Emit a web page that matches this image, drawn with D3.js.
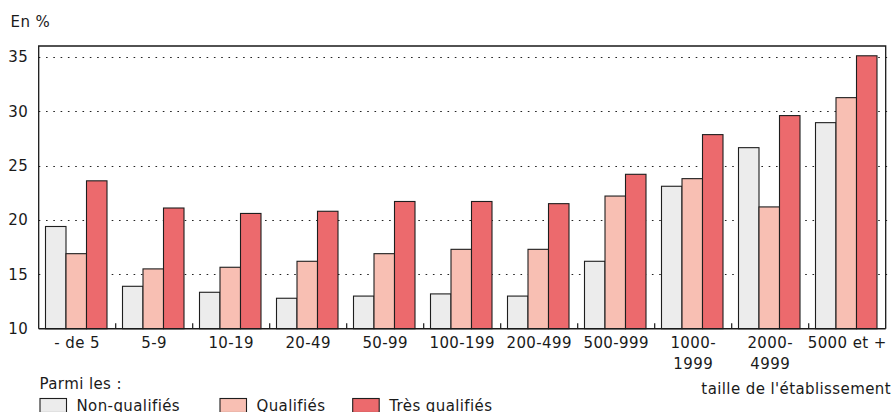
<!DOCTYPE html>
<html>
<head>
<meta charset="utf-8">
<script src="https://cdn.jsdelivr.net/npm/d3@7"></script>
<style>
  html, body { margin: 0; padding: 0; background: #fff; }
  svg text { font-family: "DejaVu Sans", Verdana, sans-serif; font-size: 15px; fill: #1a1a1a; letter-spacing: 0.4px; }
</style>
</head>
<body>
<svg id="chart" width="894" height="412"></svg>
<script>
// Taille de l'établissement (libellés, retour à la ligne avec "\n")
const categories = ["- de 5", "5-9", "10-19", "20-49", "50-99", "100-199", "200-499",
  "500-999", "1000-\n1999", "2000-\n4999", "5000 et +"];
const seriesNames = ["Non-qualifiés", "Qualifiés", "Très qualifiés"];
const nonQualifies   = [19.4, 13.9, 13.35, 12.8, 13.0, 13.2, 13.0, 16.2, 23.1, 26.65, 28.95];
const qualifies      = [16.9, 15.5, 15.65, 16.2, 16.9, 17.3, 17.3, 22.2, 23.8, 21.2, 31.25];
const tresQualifies  = [23.6, 21.1, 20.6, 20.8, 21.7, 21.7, 21.5, 24.2, 27.85, 29.6, 35.1];
const yTicks = [10, 15, 20, 25, 30, 35];
const colors = ["#ececec", "#f8bfb3", "#ec6a6d"];

const series = [nonQualifies, qualifies, tresQualifies];

const svg = d3.select("#chart");
const plotLeft = 38.7, plotRight = 885.7, plotTop = 46, plotBottom = 328.7;

const x = d3.scaleBand().domain(categories).range([plotLeft, plotRight]).padding(0);
const x1 = d3.scaleBand().domain(seriesNames).range([6.8, 68.3]).padding(0);
const y = d3.scaleLinear().domain([10, 36]).range([plotBottom, plotTop]);

// Grille pointillée
svg.append("g")
  .selectAll("line")
  .data(yTicks.filter(d => d > 10))
  .join("line")
  .attr("x1", plotLeft).attr("x2", plotRight + 3)
  .attr("y1", d => Math.round(y(d)) + 0.5).attr("y2", d => Math.round(y(d)) + 0.5)
  .attr("stroke", "#222")
  .attr("stroke-width", 1.2)
  .attr("stroke-dasharray", "1.6,5.7");

// Barres
const groups = svg.append("g")
  .selectAll("g")
  .data(categories.map((c, i) => ({ c, values: series.map((s, k) => ({ name: seriesNames[k], v: s[i], k })) })))
  .join("g")
  .attr("transform", d => `translate(${x(d.c)},0)`);

groups.selectAll("rect")
  .data(d => d.values)
  .join("rect")
  .attr("x", d => x1(d.name))
  .attr("width", x1.bandwidth())
  .attr("y", d => y(d.v))
  .attr("height", d => y(10) - y(d.v))
  .attr("fill", d => colors[d.k])
  .attr("stroke", "#1e1e1e")
  .attr("stroke-width", 1.1);

// Cadre
const frame = svg.append("g").attr("fill", "none").attr("stroke", "#1a1a1a").attr("stroke-width", 1.3);
frame.append("path").attr("d", `M${plotLeft},${plotBottom}V${plotTop}H${plotRight}V${plotBottom}`);
frame.append("line").attr("x1", plotLeft).attr("x2", plotRight).attr("y1", plotBottom).attr("y2", plotBottom).attr("stroke-width", 1.6);

// Séparateurs entre classes
svg.append("g")
  .selectAll("line")
  .data(categories.slice(1))
  .join("line")
  .attr("x1", d => x(d)).attr("x2", d => x(d))
  .attr("y1", plotBottom).attr("y2", plotBottom - 5.5)
  .attr("stroke", "#1a1a1a").attr("stroke-width", 1.2);

// Axe vertical
const yAxis = svg.append("g")
  .attr("transform", `translate(${plotLeft},0)`)
  .call(d3.axisLeft(y).tickValues(yTicks).tickSize(0).tickPadding(10.5));
yAxis.select(".domain").remove();
yAxis.attr("font-family", null).attr("font-size", null);
yAxis.selectAll("text").attr("fill", null);

// Axe horizontal
const xAxis = svg.append("g")
  .attr("transform", `translate(0,${plotBottom})`)
  .call(d3.axisBottom(x).tickSize(0).tickPadding(0));
xAxis.select(".domain").remove();
xAxis.attr("font-family", null).attr("font-size", null);
xAxis.selectAll("text")
  .attr("fill", null)
  .attr("dy", null)
  .attr("y", 0)
  .text(null)
  .each(function(d) {
    const lines = d.split("\n");
    const t = d3.select(this);
    lines.forEach((ln, i) => {
      t.append("tspan").attr("x", 0).attr("y", 19.8 + i * 21).text(ln);
    });
  });

// Titres
svg.append("text").attr("x", 10.5).attr("y", 26.5).text("En %");
svg.append("text").attr("x", 891).attr("y", 394).attr("text-anchor", "end").text("taille de l'établissement");

// Légende
svg.append("text").attr("x", 39.5).attr("y", 389).text("Parmi les :");
const legendX = [40, 220, 352.7];
const legend = svg.append("g")
  .selectAll("g")
  .data(seriesNames)
  .join("g")
  .attr("transform", (d, i) => `translate(${legendX[i]},398.5)`);
legend.append("rect")
  .attr("width", 26.5).attr("height", 14)
  .attr("fill", (d, i) => colors[i])
  .attr("stroke", "#1e1e1e").attr("stroke-width", 1.1);
legend.append("text").attr("x", 36.5).attr("y", 411 - 398.5).text(d => d);
</script>
</body>
</html>
